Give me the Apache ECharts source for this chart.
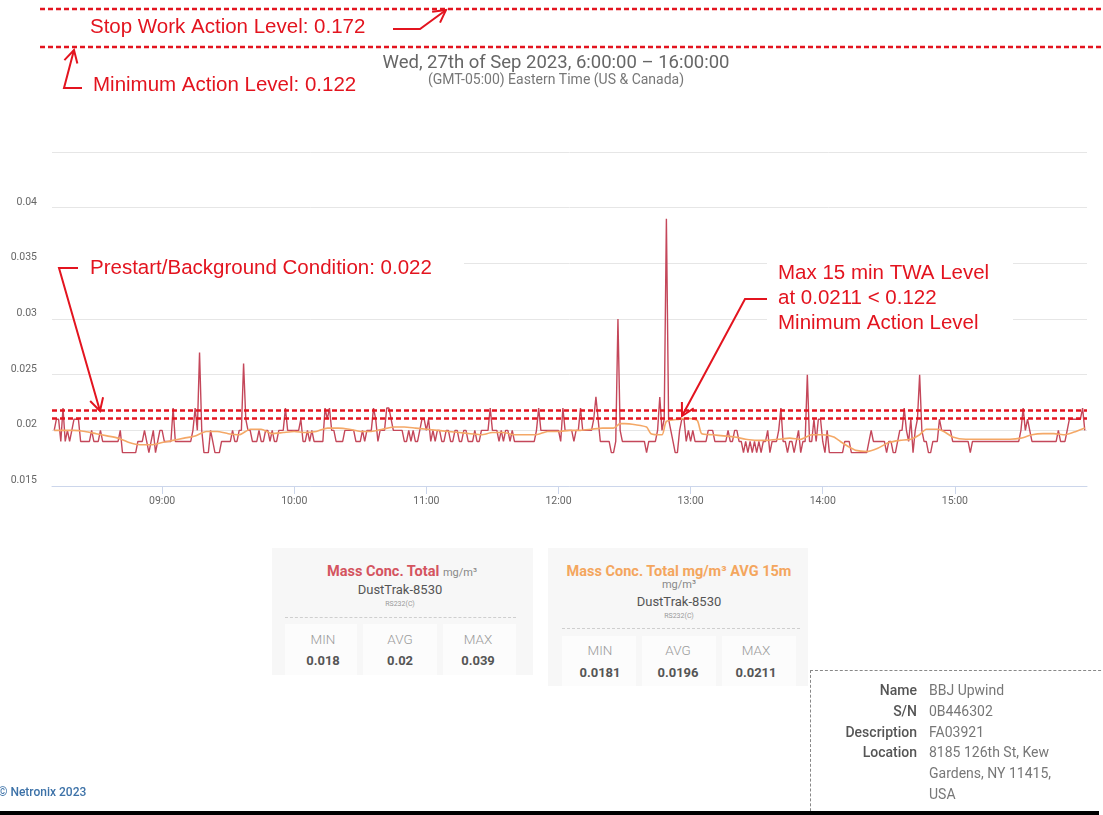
<!DOCTYPE html>
<html>
<head>
<meta charset="utf-8">
<title>Mass Conc. Total - BBJ Upwind</title>
<script src="https://cdn.jsdelivr.net/npm/echarts@6/dist/echarts.min.js"></script>
<style>
  html, body { margin: 0; padding: 0; background: #fff; }
  body { width: 1103px; height: 815px; position: relative; overflow: hidden;
         font-family: Roboto, "Noto Sans", sans-serif; }
  #chart { position: absolute; left: 0; top: 0; width: 1103px; height: 815px; }
  .card { position: absolute; background: #f7f7f7; }
  .cell { position: absolute; background: #fcfcfc; }
  .sep { position: absolute; height: 0; border-top: 1px dashed #cfcfcf; }
  .t { position: absolute; white-space: nowrap; line-height: 16px; height: 16px;
       transform: translateX(-50%); }
  .ttl { font-size: 14.5px; font-weight: 700; }
  .unit { font-size: 11px; font-weight: 400; color: #888; }
  .dev { font-size: 13px; color: #555; }
  .port { font-size: 7px; color: #999; }
  .lbl { font-size: 13.5px; color: #9a9a9a; font-weight: 300; }
  .val { font-size: 13px; color: #555; font-weight: 700; }
  .info { position: absolute; left: 810px; top: 670px; width: 300px; height: 160px;
          border-top: 1px dashed #888; border-left: 1px dashed #888; }
  .k { position: absolute; width: 120px; left: 797px; text-align: right; font-size: 14px;
       color: #555; font-weight: 500; line-height: 16px; }
  .v { position: absolute; left: 929px; font-size: 14px; color: #777; line-height: 16px; white-space: nowrap; }
  .foot { position: absolute; left: -2px; top: 785px; font-size: 12px; color: #3d72a8; font-weight: 500; }
  .bar { position: absolute; left: 0; top: 811px; width: 1099px; height: 4px; background: #000; }
</style>
</head>
<body>
<div id="chart"></div>

<!-- Mass Conc. Total -->
<div class="card" style="left:272px;top:548px;width:261px;height:127px"></div>
<div class="cell" style="left:285px;top:624px;width:72px;height:51px"></div>
<div class="cell" style="left:363px;top:624px;width:74px;height:51px"></div>
<div class="cell" style="left:443px;top:624px;width:73px;height:51px"></div>
<div class="sep" style="left:285px;top:617px;width:231px"></div>
<div class="t ttl" style="left:402px;top:564px"><span style="color:#d4545f">Mass Conc. Total</span> <span class="unit">mg/m³</span></div>
<div class="t dev" style="left:400px;top:582px">DustTrak-8530</div>
<div class="t port" style="left:400px;top:596px">RS232(C)</div>
<div class="t lbl" style="left:323px;top:631px">MIN</div>
<div class="t lbl" style="left:400px;top:631px">AVG</div>
<div class="t lbl" style="left:478px;top:631px">MAX</div>
<div class="t val" style="left:323px;top:653px">0.018</div>
<div class="t val" style="left:400px;top:653px">0.02</div>
<div class="t val" style="left:478px;top:653px">0.039</div>

<!-- Mass Conc. Total AVG 15m -->
<div class="card" style="left:548px;top:548px;width:260px;height:138px"></div>
<div class="cell" style="left:562px;top:636px;width:74px;height:50px"></div>
<div class="cell" style="left:642px;top:636px;width:74px;height:50px"></div>
<div class="cell" style="left:722px;top:636px;width:74px;height:50px"></div>
<div class="sep" style="left:562px;top:628px;width:238px"></div>
<div class="t ttl" style="left:679px;top:564px;color:#f4a65e">Mass Conc. Total mg/m³ AVG 15m</div>
<div class="t unit" style="left:679px;top:577px">mg/m³</div>
<div class="t dev" style="left:679px;top:594px">DustTrak-8530</div>
<div class="t port" style="left:679px;top:608px">RS232(C)</div>
<div class="t lbl" style="left:600px;top:642px">MIN</div>
<div class="t lbl" style="left:678px;top:642px">AVG</div>
<div class="t lbl" style="left:756px;top:642px">MAX</div>
<div class="t val" style="left:600px;top:665px">0.0181</div>
<div class="t val" style="left:678px;top:665px">0.0196</div>
<div class="t val" style="left:756px;top:665px">0.0211</div>

<!-- device info -->
<div class="info"></div>
<div class="k" style="top:682px">Name</div><div class="v" style="top:682px">BBJ Upwind</div>
<div class="k" style="top:703px">S/N</div><div class="v" style="top:703px">0B446302</div>
<div class="k" style="top:724px">Description</div><div class="v" style="top:724px">FA03921</div>
<div class="k" style="top:744px">Location</div><div class="v" style="top:744px">8185 126th St, Kew</div>
<div class="v" style="top:765px">Gardens, NY 11415,</div>
<div class="v" style="top:786px">USA</div>

<div class="foot">© Netronix 2023</div>
<div class="bar"></div>

<script>
// 27 Sep 2023, one reading per minute starting 08:11 (mg/m³)
var day = [2023, 8, 27];
var firstReading = '08:11';
var massTotal = [
  0.020, 0.021, 0.021, 0.019, 0.022, 0.019, 0.020, 0.019, 0.020, 0.021, // 08:11
  0.021, 0.021, 0.019, 0.019, 0.019, 0.019, 0.019, 0.020, 0.019, 0.019, // 08:21
  0.019, 0.020, 0.019, 0.019, 0.019, 0.019, 0.019, 0.019, 0.019, 0.019, // 08:31
  0.020, 0.018, 0.018, 0.018, 0.018, 0.018, 0.018, 0.018, 0.019, 0.019, // 08:41
  0.019, 0.020, 0.019, 0.018, 0.019, 0.020, 0.018, 0.019, 0.020, 0.020, // 08:51
  0.019, 0.019, 0.019, 0.019, 0.022, 0.019, 0.019, 0.019, 0.019, 0.019, // 09:01
  0.019, 0.019, 0.019, 0.020, 0.022, 0.020, 0.027, 0.020, 0.018, 0.018, // 09:11
  0.018, 0.020, 0.019, 0.018, 0.018, 0.018, 0.019, 0.019, 0.019, 0.019, // 09:21
  0.019, 0.020, 0.019, 0.019, 0.020, 0.020, 0.026, 0.021, 0.020, 0.020, // 09:31
  0.019, 0.019, 0.019, 0.020, 0.019, 0.019, 0.020, 0.020, 0.019, 0.020, // 09:41
  0.019, 0.019, 0.020, 0.020, 0.020, 0.022, 0.020, 0.020, 0.020, 0.020, // 09:51
  0.020, 0.020, 0.021, 0.019, 0.019, 0.020, 0.019, 0.020, 0.019, 0.019, // 10:01
  0.019, 0.019, 0.019, 0.022, 0.021, 0.022, 0.020, 0.020, 0.019, 0.019, // 10:11
  0.019, 0.019, 0.020, 0.020, 0.020, 0.020, 0.020, 0.019, 0.019, 0.019, // 10:21
  0.020, 0.019, 0.020, 0.020, 0.020, 0.022, 0.021, 0.019, 0.020, 0.020, // 10:31
  0.020, 0.022, 0.022, 0.021, 0.020, 0.020, 0.020, 0.020, 0.020, 0.019, // 10:41
  0.019, 0.020, 0.019, 0.020, 0.019, 0.019, 0.020, 0.021, 0.021, 0.020, // 10:51
  0.021, 0.019, 0.020, 0.019, 0.020, 0.020, 0.019, 0.019, 0.020, 0.020, // 11:01
  0.019, 0.019, 0.020, 0.020, 0.019, 0.019, 0.020, 0.020, 0.019, 0.019, // 11:11
  0.019, 0.020, 0.019, 0.019, 0.020, 0.020, 0.020, 0.020, 0.022, 0.020, // 11:21
  0.020, 0.020, 0.019, 0.020, 0.019, 0.020, 0.020, 0.019, 0.020, 0.019, // 11:31
  0.019, 0.019, 0.019, 0.019, 0.019, 0.019, 0.019, 0.019, 0.019, 0.020, // 11:41
  0.022, 0.020, 0.020, 0.020, 0.020, 0.020, 0.020, 0.020, 0.020, 0.020, // 11:51
  0.019, 0.022, 0.020, 0.020, 0.020, 0.020, 0.019, 0.020, 0.020, 0.022, // 12:01
  0.020, 0.020, 0.020, 0.020, 0.020, 0.021, 0.023, 0.021, 0.019, 0.019, // 12:11
  0.019, 0.019, 0.019, 0.018, 0.018, 0.019, 0.030, 0.020, 0.019, 0.019, // 12:21
  0.019, 0.019, 0.019, 0.019, 0.019, 0.019, 0.019, 0.019, 0.019, 0.018, // 12:31
  0.019, 0.019, 0.019, 0.019, 0.020, 0.023, 0.020, 0.021, 0.039, 0.021, // 12:41
  0.020, 0.019, 0.018, 0.018, 0.020, 0.021, 0.021, 0.019, 0.020, 0.019, // 12:51
  0.020, 0.019, 0.019, 0.019, 0.019, 0.019, 0.019, 0.020, 0.020, 0.020, // 13:01
  0.019, 0.019, 0.019, 0.019, 0.019, 0.019, 0.020, 0.019, 0.019, 0.020, // 13:11
  0.020, 0.019, 0.019, 0.018, 0.019, 0.018, 0.019, 0.018, 0.019, 0.018, // 13:21
  0.019, 0.018, 0.019, 0.019, 0.020, 0.018, 0.019, 0.019, 0.019, 0.020, // 13:31
  0.022, 0.019, 0.019, 0.018, 0.019, 0.019, 0.018, 0.019, 0.020, 0.018, // 13:41
  0.019, 0.019, 0.025, 0.019, 0.019, 0.021, 0.019, 0.021, 0.021, 0.019, // 13:51
  0.018, 0.020, 0.018, 0.018, 0.018, 0.018, 0.018, 0.018, 0.018, 0.019, // 14:01
  0.019, 0.019, 0.018, 0.018, 0.018, 0.018, 0.018, 0.018, 0.018, 0.018, // 14:11
  0.019, 0.020, 0.019, 0.019, 0.019, 0.019, 0.019, 0.019, 0.018, 0.019, // 14:21
  0.019, 0.018, 0.018, 0.019, 0.020, 0.020, 0.022, 0.020, 0.019, 0.021, // 14:31
  0.018, 0.020, 0.021, 0.025, 0.020, 0.019, 0.019, 0.018, 0.018, 0.019, // 14:41
  0.019, 0.019, 0.021, 0.020, 0.020, 0.020, 0.020, 0.020, 0.019, 0.019, // 14:51
  0.019, 0.019, 0.019, 0.019, 0.019, 0.019, 0.018, 0.019, 0.019, 0.019, // 15:01
  0.019, 0.019, 0.019, 0.019, 0.019, 0.019, 0.019, 0.019, 0.019, 0.019, // 15:11
  0.019, 0.019, 0.019, 0.019, 0.019, 0.019, 0.019, 0.019, 0.019, 0.020, // 15:21
  0.022, 0.020, 0.021, 0.020, 0.019, 0.019, 0.019, 0.019, 0.019, 0.019, // 15:31
  0.019, 0.019, 0.019, 0.019, 0.019, 0.019, 0.020, 0.019, 0.019, 0.019, // 15:41
  0.020, 0.021, 0.021, 0.021, 0.021, 0.021, 0.021, 0.022, 0.020        // 15:51
];

// 15 minute average, read at its turning points
var avgTimes = [
  '08:11', '08:15', '08:20', '08:25', '08:30', '08:35', '08:40', '08:45', '08:50', '08:55',
  '09:00', '09:05', '09:10', '09:15', '09:20', '09:25', '09:30', '09:35', '09:40', '09:45',
  '09:50', '09:55', '10:00', '10:05', '10:10', '10:15', '10:20', '10:25', '10:30', '10:35',
  '10:40', '10:45', '10:50', '10:55', '11:00', '11:05', '11:10', '11:15', '11:20', '11:25',
  '11:30', '11:35', '11:40', '11:45', '11:50', '11:55', '12:00', '12:05', '12:10', '12:15',
  '12:20', '12:25', '12:28', '12:30', '12:35', '12:40', '12:42', '12:47', '12:49', '12:55',
  '12:58', '13:03', '13:05', '13:10', '13:15', '13:20', '13:25', '13:30', '13:35', '13:40',
  '13:45', '13:50', '13:55', '14:00', '14:05', '14:08', '14:12', '14:15', '14:20', '14:25',
  '14:30', '14:35', '14:40', '14:44', '14:47', '14:52', '14:55', '14:59', '15:05', '15:10',
  '15:15', '15:20', '15:25', '15:30', '15:35', '15:40', '15:45', '15:50', '15:55', '15:59'
];
var avgValues = [
  0.0200, 0.0200, 0.0200, 0.0199, 0.0197, 0.0195, 0.0193, 0.0189, 0.0187, 0.0187,
  0.0189, 0.0191, 0.0193, 0.0195, 0.0199, 0.0199, 0.0197, 0.0196, 0.0201, 0.0201,
  0.0197, 0.0198, 0.0199, 0.0198, 0.0199, 0.0202, 0.0202, 0.0201, 0.0199, 0.0199,
  0.0201, 0.0203, 0.0203, 0.0202, 0.0201, 0.0200, 0.0199, 0.0198, 0.0197, 0.0196,
  0.0198, 0.0198, 0.0196, 0.0196, 0.0196, 0.0199, 0.0199, 0.0200, 0.0200, 0.0201,
  0.0202, 0.0202, 0.0206, 0.0206, 0.0205, 0.0203, 0.0197, 0.0196, 0.0208, 0.0210,
  0.0211, 0.0209, 0.0197, 0.0196, 0.0195, 0.0194, 0.0192, 0.0191, 0.0191, 0.0192,
  0.0193, 0.0192, 0.0196, 0.0196, 0.0194, 0.0190, 0.0185, 0.0182, 0.0181, 0.0184,
  0.0189, 0.0191, 0.0192, 0.0196, 0.0201, 0.0201, 0.0199, 0.0194, 0.0192, 0.0192,
  0.0192, 0.0192, 0.0192, 0.0193, 0.0196, 0.0197, 0.0197, 0.0196, 0.0199, 0.0202
];

var axisStart = '08:10';
var axisEnd = '16:00';
var hourTicks = ['09:00', '10:00', '11:00', '12:00', '13:00', '14:00', '15:00'];

// levels drawn as dashed lines inside the plot
var prestartLevel = 0.0218;
var twaMaxLevel = 0.0211;

var RED = '#e3141f';

function toTime (hhmm) {
  var p = hhmm.split(':');
  return new Date(day[0], day[1], day[2], +p[0], +p[1]).getTime();
}
function pad (n) { return n < 10 ? '0' + n : '' + n; }

var t0 = toTime(firstReading);
var massData = massTotal.map(function (v, i) { return [t0 + i * 60000, v]; });
var avgData = avgTimes.map(function (t, i) { return [toTime(t), avgValues[i]]; });
var tickValues = hourTicks.map(toTime);

/* open arrow head at tip, pointing away from `from` */
function arrowHead (tip, from, len) {
  var ang = Math.atan2(tip[1] - from[1], tip[0] - from[0]);
  var a1 = ang + Math.PI - 0.5, a2 = ang + Math.PI + 0.5;
  return [
    [tip[0] + len * Math.cos(a1), tip[1] + len * Math.sin(a1)],
    tip,
    [tip[0] + len * Math.cos(a2), tip[1] + len * Math.sin(a2)]
  ];
}
function arrow (pts) {
  var tip = pts[pts.length - 1], from = pts[pts.length - 2];
  var st = { stroke: RED, lineWidth: 2, fill: null, lineJoin: 'miter' };
  return [
    { type: 'polyline', z: 20, shape: { points: pts }, style: st },
    { type: 'polyline', z: 20, shape: { points: arrowHead(tip, from, 14) }, style: st }
  ];
}
function note (x, y, text) {
  return {
    type: 'text', x: x, y: y, z: 20,
    style: { text: text, fill: RED, font: '20.5px "Liberation Sans", Arial, sans-serif',
             verticalAlign: 'middle', lineHeight: 25 }
  };
}
var topDash = { stroke: RED, lineWidth: 2.5, lineDash: [5, 3] };

var chart = echarts.init(document.getElementById('chart'));
chart.setOption({
  animation: false,
  backgroundColor: '#fff',
  title: {
    text: 'Wed, 27th of Sep 2023, 6:00:00 \u2013 16:00:00',
    subtext: '(GMT-05:00) Eastern Time (US & Canada)',
    left: 551,
    top: 49,
    textAlign: 'center',
    itemGap: 0,
    textStyle: { fontFamily: 'Roboto', fontSize: 18.5, fontWeight: 'normal', color: '#666' },
    subtextStyle: { fontFamily: 'Roboto', fontSize: 14, color: '#777' }
  },
  grid: { left: 52, right: 16, top: 152, bottom: 329, outerBoundsMode: 'none' },
  xAxis: {
    // timestamps on a plain value axis so the hour ticks can be placed exactly
    type: 'value',
    min: toTime(axisStart),
    max: toTime(axisEnd),
    splitLine: { show: false },
    axisLine: { lineStyle: { color: '#ccd6eb', width: 1 } },
    axisTick: { customValues: tickValues, length: 8, lineStyle: { color: '#ccd6eb' } },
    axisLabel: {
      customValues: tickValues,
      margin: 10,
      fontFamily: 'Roboto',
      fontSize: 10.5,
      color: '#666',
      formatter: function (v) {
        var d = new Date(v);
        return pad(d.getHours()) + ':' + pad(d.getMinutes());
      }
    }
  },
  yAxis: {
    type: 'value',
    min: 0.015,
    max: 0.045,
    interval: 0.005,
    axisLine: { show: false },
    axisTick: { show: false },
    splitLine: { lineStyle: { color: '#e6e6e6', width: 1 } },
    axisLabel: {
      margin: 15,
      fontFamily: 'Roboto',
      fontSize: 10.5,
      color: '#666',
      verticalAlign: 'bottom',
      formatter: function (v) { return v > 0.044 ? '' : String(Number(v.toFixed(3))); }
    }
  },
  series: [{
    name: 'Mass Conc. Total',
    type: 'line',
    data: massData,
    showSymbol: false,
    lineStyle: { color: '#c4475a', width: 1.4 },
    itemStyle: { color: '#c4475a' }
  }, {
    name: 'Mass Conc. Total AVG 15m',
    type: 'line',
    data: avgData,
    showSymbol: false,
    smooth: 0.2,
    lineStyle: { color: '#f4a867', width: 1.6 },
    itemStyle: { color: '#f4a867' },
    markLine: {
      silent: true,
      symbol: 'none',
      precision: 5,
      label: { show: false },
      lineStyle: { color: RED, type: [5, 3], width: 2.5 },
      data: [{ yAxis: prestartLevel }, { yAxis: twaMaxLevel }]
    }
  }],
  graphic: [
    // white backing behind the notes inside the plot
    { type: 'rect', z: 15, shape: { x: 52, y: 251, width: 412, height: 35 }, style: { fill: '#fff' } },
    { type: 'rect', z: 15, shape: { x: 767, y: 256, width: 246, height: 82 }, style: { fill: '#fff' } },
    // action levels far above the plotted range
    { type: 'line', z: 20, shape: { x1: 40, y1: 9, x2: 1103, y2: 9 }, style: topDash },
    { type: 'line', z: 20, shape: { x1: 40, y1: 47, x2: 1103, y2: 47 }, style: topDash },
    note(90, 27, 'Stop Work Action Level: 0.172'),
    note(93, 85, 'Minimum Action Level: 0.122'),
    note(90, 268, 'Prestart/Background Condition: 0.022'),
    note(778, 298, 'Max 15 min TWA Level\nat 0.0211 < 0.122\nMinimum Action Level')
  ].concat(
    arrow([[393, 29], [420, 29], [446, 10]]),
    arrow([[82, 88], [64, 88], [74, 50]]),
    arrow([[78, 268], [59, 268], [100, 411]]),
    arrow([[767, 299], [745, 299], [682, 416]])
  )
});

window.onresize = function () { chart.resize(); };
</script>
</body>
</html>
